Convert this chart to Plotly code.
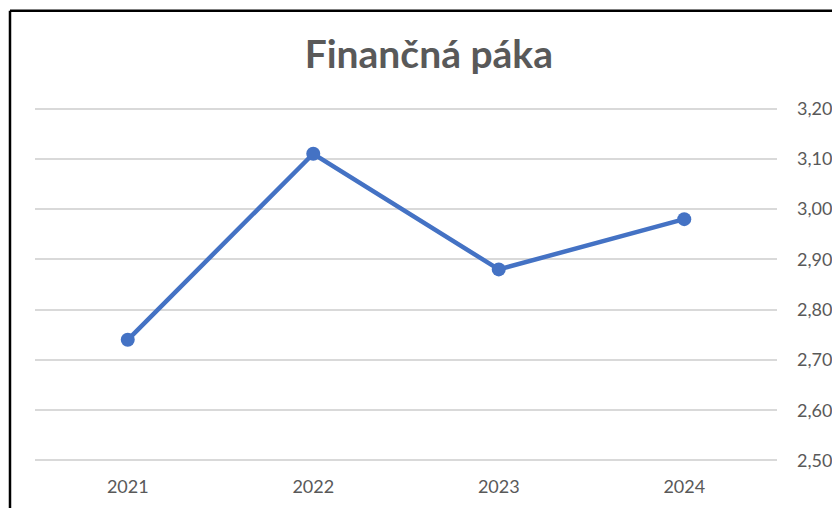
import plotly.graph_objects as go

years = ["2021", "2022", "2023", "2024"]
values = [2.74, 3.11, 2.88, 2.98]
y_ticks = [2.5, 2.6, 2.7, 2.8, 2.9, 3.0, 3.1, 3.2]
title_text = "Finančná páka"

FONT = "Lato, 'Open Sans', sans-serif"
GRAY = "#595959"

fig = go.Figure()
fig.add_trace(go.Scatter(
    x=years, y=values, mode="lines+markers",
    line=dict(color="#4472C4", width=4.5),
    marker=dict(color="#4472C4", size=14),
    hoverinfo="skip",
))

fig.update_layout(
    width=840, height=508,
    margin=dict(l=27, r=71, t=97.5, b=52.8, autoexpand=False),
    paper_bgcolor="white", plot_bgcolor="white",
    separators=", ",
    showlegend=False,
    title=dict(text="<b>" + title_text + "</b>", x=0.501, xref="container", xanchor="center",
               y=1 - 46 / 508, yref="container", yanchor="middle",
               font=dict(family=FONT, size=39, color=GRAY)),
    font=dict(family=FONT, color=GRAY),
    xaxis=dict(type="category", range=[-0.5, 3.5], showgrid=False, zeroline=False,
               showline=False, ticks="", tickfont=dict(size=18, color=GRAY),
               ticklabelstandoff=11),
    yaxis=dict(side="right", range=[2.495, 3.205], tickvals=y_ticks, tickformat=".2f",
               showgrid=True, gridcolor="#d9d9d9", gridwidth=1.5, zeroline=False,
               showline=False, ticks="", tickfont=dict(size=18, color=GRAY),
               ticklabelstandoff=19),
    shapes=[
        dict(type="line", xref="paper", yref="paper", x0=-0.0337, x1=-0.0337, y0=-0.3, y1=1.267,
             line=dict(color="black", width=2.5)),
        dict(type="line", xref="paper", yref="paper", x0=-0.0337, x1=1.2, y0=1.267, y1=1.267,
             line=dict(color="black", width=2.5)),
    ],
)

fig.write_html("out.html")
